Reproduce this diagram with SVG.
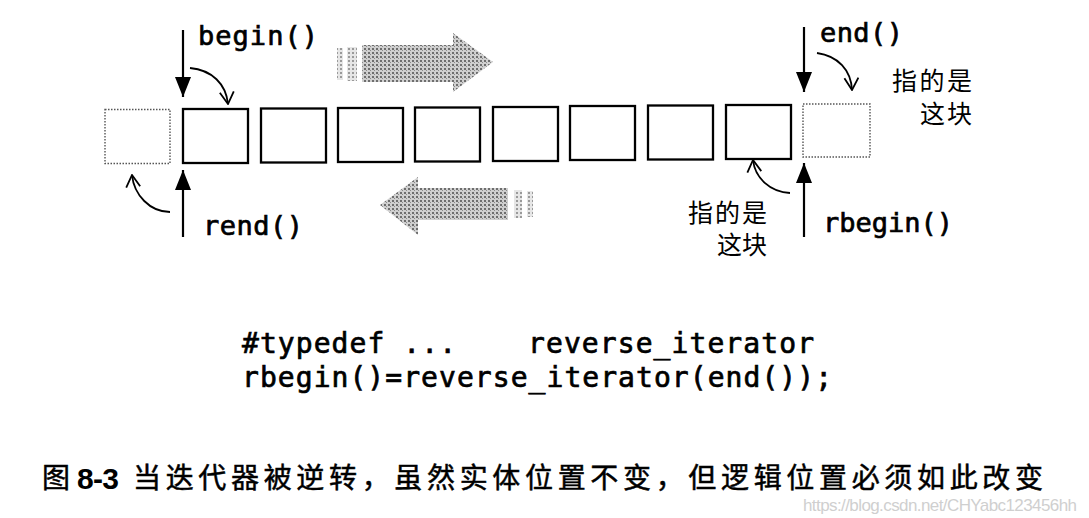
<svg xmlns="http://www.w3.org/2000/svg" width="1089" height="518" viewBox="0 0 1089 518">
<style>
.box{fill:#fff;stroke:#000;stroke-width:2.3}
.ghost{fill:#fff;stroke:#555;stroke-width:1.4;stroke-dasharray:1.5 1.5}
.lbl{font-family:"DejaVu Sans Mono","Liberation Mono",monospace;font-size:27px;fill:#000;stroke:#000;stroke-width:0.7}
.code{font-family:"DejaVu Sans Mono","Liberation Mono",monospace;font-size:28px;fill:#000;stroke:#000;stroke-width:0.7}
.cn{font-family:"Noto Sans CJK SC","Noto Sans",sans-serif;font-size:25px;fill:#000}
.cap{font-family:"Noto Sans CJK SC","Noto Sans",sans-serif;font-size:28px;fill:#000;stroke:#000;stroke-width:0.5}
.ptr{stroke:#000;stroke-width:2.2;fill:none;marker-end:url(#solid)}
.crv{stroke:#000;stroke-width:1.8;fill:none;marker-end:url(#open)}
</style>
<defs>
<marker id="solid" markerUnits="userSpaceOnUse" viewBox="0 0 20 16" refX="20" refY="8" markerWidth="20" markerHeight="16" orient="auto">
<path d="M0,0 L20,8 L0,16 z" fill="#000"/>
</marker>
<marker id="open" markerUnits="userSpaceOnUse" viewBox="0 0 14 16" refX="13" refY="8" markerWidth="14" markerHeight="16" orient="auto">
<path d="M1,1 L13,8 L1,15" fill="none" stroke="#000" stroke-width="1.8"/>
</marker>
<pattern id="stip" width="4" height="4" patternUnits="userSpaceOnUse">
<rect width="4" height="4" fill="#cfcfcf"/>
<rect width="2" height="2" fill="#6e6e6e"/>
<rect x="2" y="2" width="1" height="1" fill="#8a8a8a"/>
</pattern>
<pattern id="stip2" width="4" height="4" patternUnits="userSpaceOnUse">
<rect width="4" height="4" fill="#e6e6e6"/>
<rect width="2" height="2" fill="#9a9a9a"/>
</pattern>
</defs>
<rect width="1089" height="518" fill="#fff"/>

<g id="direction-arrows">
<polygon points="362,45 453,45 453,33 493,62 453,92 453,82 362,82" fill="url(#stip)"/>
<rect x="337" y="48" width="6" height="32" fill="url(#stip2)"/>
<rect x="347" y="47" width="10" height="34" fill="url(#stip2)"/>
<polygon points="508,188 418,188 418,177 380,205 418,235 418,220 508,220" fill="url(#stip)"/>
<rect x="514" y="190" width="8" height="28" fill="url(#stip2)"/>
<rect x="527" y="191" width="6" height="26" fill="url(#stip2)"/>
</g>

<g id="elements">
<rect id="before-begin" class="ghost" x="105" y="109.5" width="65" height="54"/>
<rect id="e1" class="box" x="183" y="109" width="65" height="54"/>
<rect id="e2" class="box" x="261" y="108.5" width="65" height="54"/>
<rect id="e3" class="box" x="338" y="108" width="65" height="54"/>
<rect id="e4" class="box" x="415" y="107.5" width="65" height="54"/>
<rect id="e5" class="box" x="493" y="107" width="65" height="54"/>
<rect id="e6" class="box" x="570" y="106" width="65" height="54"/>
<rect id="e7" class="box" x="648" y="105.5" width="65" height="54"/>
<rect id="e8" class="box" x="726" y="105" width="65" height="54"/>
<rect id="past-end" class="ghost" x="803" y="104" width="67" height="53"/>
</g>

<g id="connectors">
<path class="ptr" d="M183,30 L183,97"/>
<path class="ptr" d="M804,27 L804,92"/>
<path class="ptr" d="M183,237 L183,170"/>
<path class="ptr" d="M804,237 L804,163"/>
<path class="crv" d="M190,68 C212,70 226,84 228,104"/>
<path class="crv" d="M817,53 C838,56 851,70 852,90"/>
<path class="crv" d="M170,212 C150,212 134,195 132,175"/>
<path class="crv" d="M790,193 C770,192 755,178 753,160"/>
</g>

<g id="label-begin"><text class="lbl" x="198" y="45" textLength="120">begin()</text></g>
<g id="label-end"><text class="lbl" x="820" y="42" textLength="83">end()</text></g>
<g id="label-rend"><text class="lbl" x="203" y="235" textLength="100">rend()</text></g>
<g id="label-rbegin"><text class="lbl" x="823" y="232" textLength="130">rbegin()</text></g>

<g id="note-end">
<text class="cn" x="892" y="90" textLength="80">指的是</text>
<text class="cn" x="920" y="123" textLength="52">这块</text>
</g>
<g id="note-rbegin">
<text class="cn" x="688" y="222" textLength="79">指的是</text>
<text class="cn" x="717" y="254" textLength="50">这块</text>
</g>

<g id="code">
<text class="code" x="242" y="353" textLength="214">#typedef ...</text>
<text class="code" x="528" y="353" textLength="286">reverse_iterator</text>
<text class="code" x="242" y="387" textLength="590">rbegin()=reverse_iterator(end());</text>
</g>

<g id="caption">
<text class="cap" x="42" y="488" font-size="27">图</text>
<text x="77" y="489" font-family="Liberation Sans, Arial, sans-serif" font-weight="bold" font-size="30" textLength="42">8-3</text>
<text class="cap" x="133" y="488" textLength="910">当迭代器被逆转，虽然实体位置不变，但逻辑位置必须如此改变</text>
<text x="803" y="511" font-family="Liberation Sans, Arial, sans-serif" font-size="17" fill="#cfcfcf" textLength="274">https://blog.csdn.net/CHYabc123456hh</text>
</g>
</svg>
